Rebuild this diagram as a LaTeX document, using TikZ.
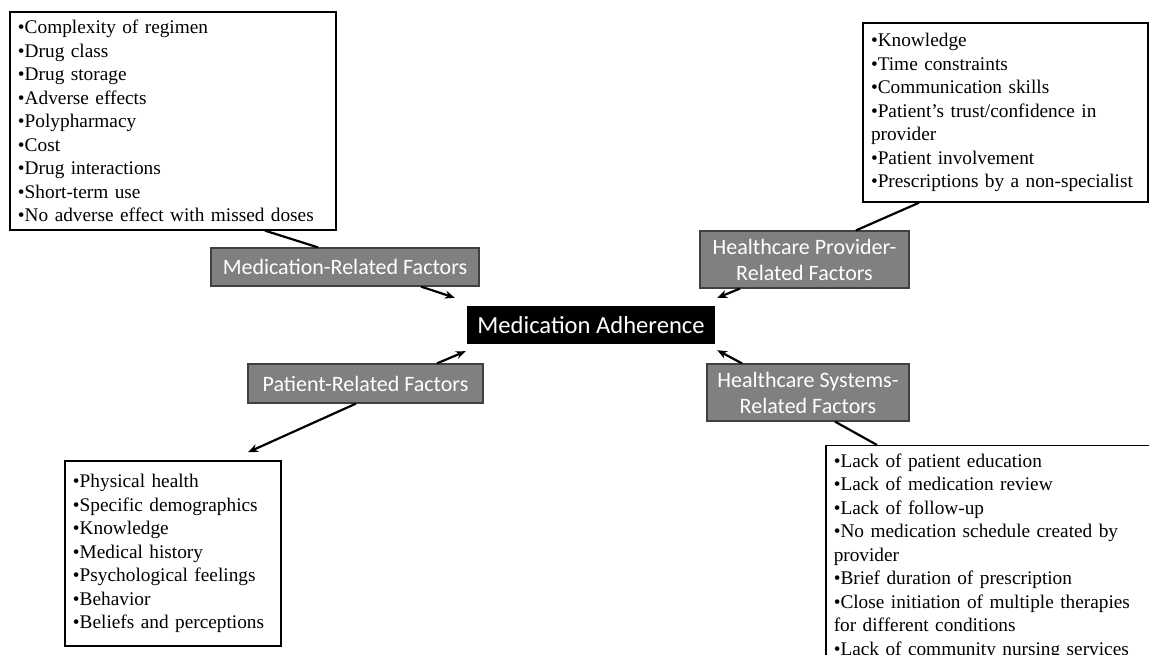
\documentclass[tikz,border=0pt]{standalone}
\usepackage{fontspec}
\setmainfont{Liberation Serif}
\newfontfamily\calibri{Carlito}
\usepackage{tikz}
\usetikzlibrary{arrows.meta}
\tikzstyle{core} = [rectangle, minimum width=248pt, minimum height=38pt, inner sep=0pt, text centered, fill=black, text=white, font=\calibri\fontsize{24.6}{28}\selectfont]
\tikzstyle{factor} = [rectangle, minimum height=38pt, inner sep=0pt, align=center, draw=black!75, line width=1.2pt, fill=black!50, text=white, font=\calibri\fontsize{22}{26}\selectfont]
\tikzstyle{listbox} = [rectangle, align=left, inner xsep=8pt, inner ysep=8pt, draw=black, line width=1.5pt, fill=white, font=\fontsize{19.3}{23.5}\selectfont]
\tikzstyle{arrow} = [line width=2.2pt,->,>={Stealth[length=10pt,width=8pt]}]
\tikzstyle{link} = [line width=2.2pt]

\begin{document}
\begin{tikzpicture}[node distance=220pt]
\useasboundingbox (-591pt,-330pt) rectangle (558pt,325pt);
\clip (-591pt,-330pt) rectangle (558pt,325pt);
\node (adh) [core] {Medication Adherence};
\node (medf) [factor, left of=adh, xshift=-26pt, yshift=58pt, minimum width=268pt] {Medication-Related Factors};
\node (pat) [factor, left of=adh, xshift=-5.5pt, yshift=-58.5pt, minimum width=235pt, minimum height=39pt] {Patient-Related Factors};
\node (hprov) [factor, right of=adh, xshift=-6.5pt, yshift=65.5pt, minimum width=209pt, minimum height=57pt] {Healthcare Provider-\\Related Factors};
\node (hsys) [factor, right of=adh, xshift=-3pt, yshift=-67.5pt, minimum width=202pt, minimum height=57pt] {Healthcare Systems-\\Related Factors};

\node (medlist) [listbox, above of=medf, xshift=-172pt, yshift=-74pt, text width=310pt, minimum height=216pt] {•Complexity of regimen\\•Drug class\\•Drug storage\\•Adverse effects\\•Polypharmacy\\•Cost\\•Drug interactions\\•Short-term use\\•No adverse effect with missed doses};
\node (provlist) [listbox, above of=hprov, xshift=201pt, yshift=-73pt, text width=269pt, minimum height=179pt] {•Knowledge\\•Time constraints\\•Communication skills\\•Patient’s trust/confidence in\\provider\\•Patient involvement\\•Prescriptions by a non-specialist};
\node (patlist) [listbox, below of=pat, xshift=-192.5pt, yshift=50pt, text width=200pt, minimum height=185pt] {•Physical health\\•Specific demographics\\•Knowledge\\•Medical history\\•Psychological feelings\\•Behavior\\•Beliefs and perceptions};
\node (syslist) [listbox, below of=hsys, anchor=north west, xshift=17pt, yshift=167.5pt, text width=330pt] {•Lack of patient education\\•Lack of medication review\\•Lack of follow-up\\•No medication schedule created by\\provider\\•Brief duration of prescription\\•Close initiation of multiple therapies\\for different conditions\\•Lack of community nursing services};

\draw [link] ([xshift=92pt]medlist.south) -- ([xshift=-27pt]medf.north);
\draw [arrow] ([xshift=76pt]medf.south) -- ([xshift=-12pt,yshift=8pt]adh.north west);
\draw [arrow] ([xshift=71.5pt]pat.north) -- ([xshift=-1pt,yshift=-7pt]adh.south west);
\draw [arrow] ([xshift=-9.5pt]pat.south) -- ([xshift=75pt,yshift=8pt]patlist.north);
\draw [link] ([xshift=-86.5pt]provlist.south) -- ([xshift=51.5pt]hprov.north);
\draw [arrow] ([xshift=-64.5pt]hprov.south) -- ([xshift=2pt,yshift=8pt]adh.north east);
\draw [link] ([xshift=27pt]hsys.south) -- ([xshift=52pt]syslist.north west);
\draw [arrow] ([xshift=-66pt]hsys.north) -- ([xshift=2pt,yshift=-6pt]adh.south east);
\end{tikzpicture}
\end{document}
